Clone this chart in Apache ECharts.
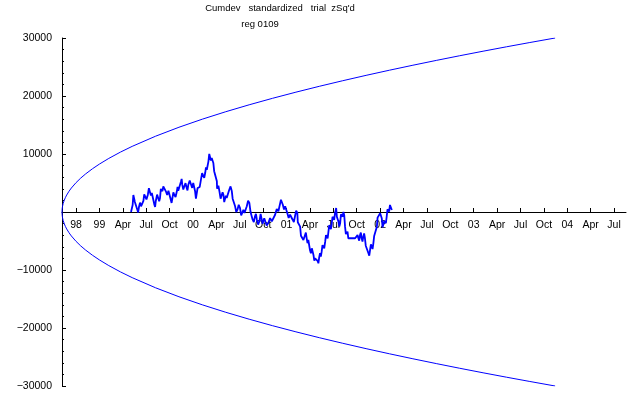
<!DOCTYPE html>
<html>
<head>
<meta charset="utf-8">
<script src="https://cdn.jsdelivr.net/npm/echarts@6/dist/echarts.min.js"></script>
<style>
html,body{margin:0;padding:0;background:#fff;}
#c{width:640px;height:395px;}
</style>
</head>
<body>
<div id="c"></div>
<script>
// Tick labels (one per quarter, index 0 = "98")
const tickLabels = ["98","99","Apr","Jul","Oct","00","Apr","Jul","Oct","01","Apr","Jul","Oct","02","Apr","Jul","Oct","03","Apr","Jul","Oct","04","Apr","Jul"];

// Probability envelope (upper half), x in quarter-tick units
const envX = [-0.6,-0.595,-0.59,-0.58,-0.55,-0.5,-0.45,-0.4,-0.3,-0.2,0,0.2,0.4,0.7,1,1.4,1.9,2.4,3.4,4.4,5.4,6.4,7.4,8.4,9.4,10.4,11.4,12.4,13.4,14.4,15.4,16.4,17.4,18.4,19.4,20.48];
const envY = [0,462,653,924,1461,2066,2531,2922,3579,4132,5061,5844,6534,7450,8265,9240,10331,11317,13068,14610,16005,17288,18481,19602,20662,21671,22634,23559,24448,25306,26136,26940,27721,28481,29221,30000];

// Cumulative deviation trace
const traceX = [2.35,2.385,2.42,2.45,2.48,2.515,2.55,2.585,2.62,2.655,2.69,2.735,2.78,2.83,2.88,2.915,2.95,3.01,3.07,3.115,3.16,3.20,3.24,3.295,3.35,3.38,3.41,3.465,3.52,3.555,3.59,3.625,3.66,3.695,3.73,3.785,3.84,3.895,3.95,4.00,4.05,4.085,4.12,4.16,4.20,4.255,4.31,4.34,4.37,4.43,4.49,4.515,4.54,4.585,4.63,4.68,4.73,4.765,4.80,4.86,4.92,4.965,5.01,5.05,5.09,5.125,5.16,5.195,5.23,5.285,5.34,5.39,5.44,5.48,5.52,5.555,5.59,5.625,5.66,5.695,5.73,5.765,5.80,5.835,5.87,5.905,5.94,5.98,6.02,6.03,6.04,6.085,6.13,6.18,6.23,6.265,6.30,6.335,6.37,6.405,6.44,6.495,6.55,6.605,6.66,6.695,6.73,6.765,6.80,6.85,6.90,6.955,7.01,7.06,7.11,7.155,7.20,7.25,7.30,7.355,7.41,7.46,7.51,7.53,7.55,7.60,7.65,7.69,7.73,7.785,7.84,7.89,7.94,7.975,8.01,8.045,8.08,8.15,8.22,8.295,8.37,8.44,8.51,8.58,8.65,8.705,8.76,8.80,8.84,8.89,8.94,8.985,9.03,9.09,9.15,9.205,9.26,9.31,9.36,9.41,9.46,9.48,9.50,9.54,9.58,9.615,9.65,9.685,9.72,9.755,9.79,9.825,9.86,9.895,9.93,9.965,10.00,10.04,10.08,10.115,10.15,10.185,10.22,10.29,10.325,10.36,10.39,10.43,10.465,10.50,10.535,10.57,10.61,10.65,10.685,10.72,10.755,10.79,10.825,10.86,10.895,10.93,10.965,11.00,11.035,11.07,11.12,11.15,11.185,11.22,11.255,11.29,11.325,11.36,11.395,11.43,11.465,11.50,11.535,11.57,11.605,11.64,11.78,11.93,12.00,12.035,12.07,12.105,12.14,12.175,12.21,12.245,12.28,12.315,12.35,12.385,12.42,12.46,12.50,12.535,12.57,12.605,12.64,12.675,12.71,12.745,12.78,12.82,12.86,12.89,12.92,12.96,13.00,13.035,13.07,13.105,13.14,13.175,13.21,13.245,13.28,13.315,13.35,13.385,13.42,13.46,13.50];
const traceY = [0,-100,1200,2940,3280,1715,1550,1675,400,-70,860,1620,980,740,1900,3030,2760,2170,2980,4110,3840,2860,3280,2970,1260,880,1900,3005,2710,1860,2410,3975,4140,3585,4430,4700,3570,2920,3670,3595,2120,1565,2410,3395,2980,2575,3570,4320,3670,3780,5290,5700,4710,3870,4430,4985,4140,3725,4710,5410,4710,4155,5000,4985,3570,2290,2410,4120,4430,4300,5570,6700,6430,5875,6720,7705,7290,7315,8740,10010,9880,8895,9310,9580,8450,7035,7020,6855,5290,4015,4140,4555,3570,2290,2410,3395,2980,1710,1840,2825,2410,2425,3840,4405,3570,2290,2410,2395,980,-10,400,1245,690,-590,-470,380,-170,-295,980,1965,1550,-10,-170,-50,-1330,-1735,-740,-335,-1330,-2165,-1600,-335,-470,-2030,-2190,-1085,-1380,-2340,-1900,-1050,-1600,-1735,-470,525,120,420,2120,2390,1260,420,980,1105,-170,-1020,-470,-200,-1330,-1735,-740,245,-170,-1760,-1950,-1540,-2530,-4095,-4260,-3845,-4830,-5100,-3970,-3550,-4530,-5380,-4830,-4990,-6550,-7105,-6260,-6135,-7410,-8395,-7980,-7980,-8410,-8840,-7930,-7120,-7680,-6840,-5710,-5980,-6250,-5120,-3990,-4260,-4530,-3400,-2265,-2530,-2940,-1950,-820,-1090,-1355,-220,690,-810,-540,-1670,-2510,-1950,-385,-220,-810,0,-565,-2530,-3800,-3670,-3400,-4530,-4530,-4530,-4830,-3980,-4530,-4950,-3970,-3550,-4530,-5095,-4260,-3695,-4530,-5810,-5690,-5705,-7120,-7535,-6550,-5565,-5980,-6390,-5400,-4130,-4260,-4095,-2530,-970,-810,-1215,-220,45,-1090,-2650,-2810,-1540,-1670,-1940,-810,465,340,75,1210,1475,340];

const tickValues = tickLabels.map((_, i) => i);
const upper = envX.map((x, i) => [x, envY[i]]);
const lower = envX.map((x, i) => [x, -envY[i]]);
const trace = traceX.map((x, i) => [x, traceY[i]]);

const FONT = '"Liberation Sans", Arial, sans-serif';
const chart = echarts.init(document.getElementById('c'), null, {renderer: 'canvas'});
chart.setOption({
  animation: false,
  backgroundColor: '#fff',
  grid: {left: 62, right: 14, top: 38, bottom: 9, containLabel: false, outerBoundsMode: 'none'},
  graphic: [
    {type: 'text', x: 280, y: 8, style: {text: "Cumdev   standardized   trial  zSq'd", font: '9.5px ' + FONT, fill: '#000', align: 'center', verticalAlign: 'middle'}},
    {type: 'text', x: 260, y: 24, style: {text: 'reg 0109', font: '9.5px ' + FONT, fill: '#000', align: 'center', verticalAlign: 'middle'}}
  ],
  xAxis: {
    type: 'value', min: -0.6, max: 23.51, position: 'bottom', offset: -174,
    axisLine: {onZero: false, lineStyle: {color: '#000', width: 1}},
    axisTick: {show: true, inside: true, length: 4, customValues: tickValues, lineStyle: {color: '#000'}},
    axisLabel: {show: true, customValues: tickValues, margin: 8, color: '#000', fontFamily: FONT, fontSize: 10.5,
      formatter: v => tickLabels[Math.round(v)] || ''},
    splitLine: {show: false}
  },
  yAxis: {
    type: 'value', min: -30000, max: 30000, interval: 10000,
    axisLine: {show: true, onZero: false, lineStyle: {color: '#000', width: 1}},
    axisTick: {show: true, inside: true, length: 4, lineStyle: {color: '#000'}},
    minorTick: {show: true, splitNumber: 5, length: 2, lineStyle: {color: '#000'}},
    axisLabel: {margin: 10, color: '#000', fontFamily: FONT, fontSize: 10.5,
      formatter: v => v === 0 ? '' : String(v).replace('-', '\u2212')},
    splitLine: {show: false}
  },
  series: [
    {type: 'line', data: upper, showSymbol: false, smooth: false, lineStyle: {color: '#0000ff', width: 1}},
    {type: 'line', data: lower, showSymbol: false, smooth: false, lineStyle: {color: '#0000ff', width: 1}},
    {type: 'line', data: trace, showSymbol: false, lineStyle: {color: '#0000ff', width: 1.8}}
  ]
});
</script>
</body>
</html>
